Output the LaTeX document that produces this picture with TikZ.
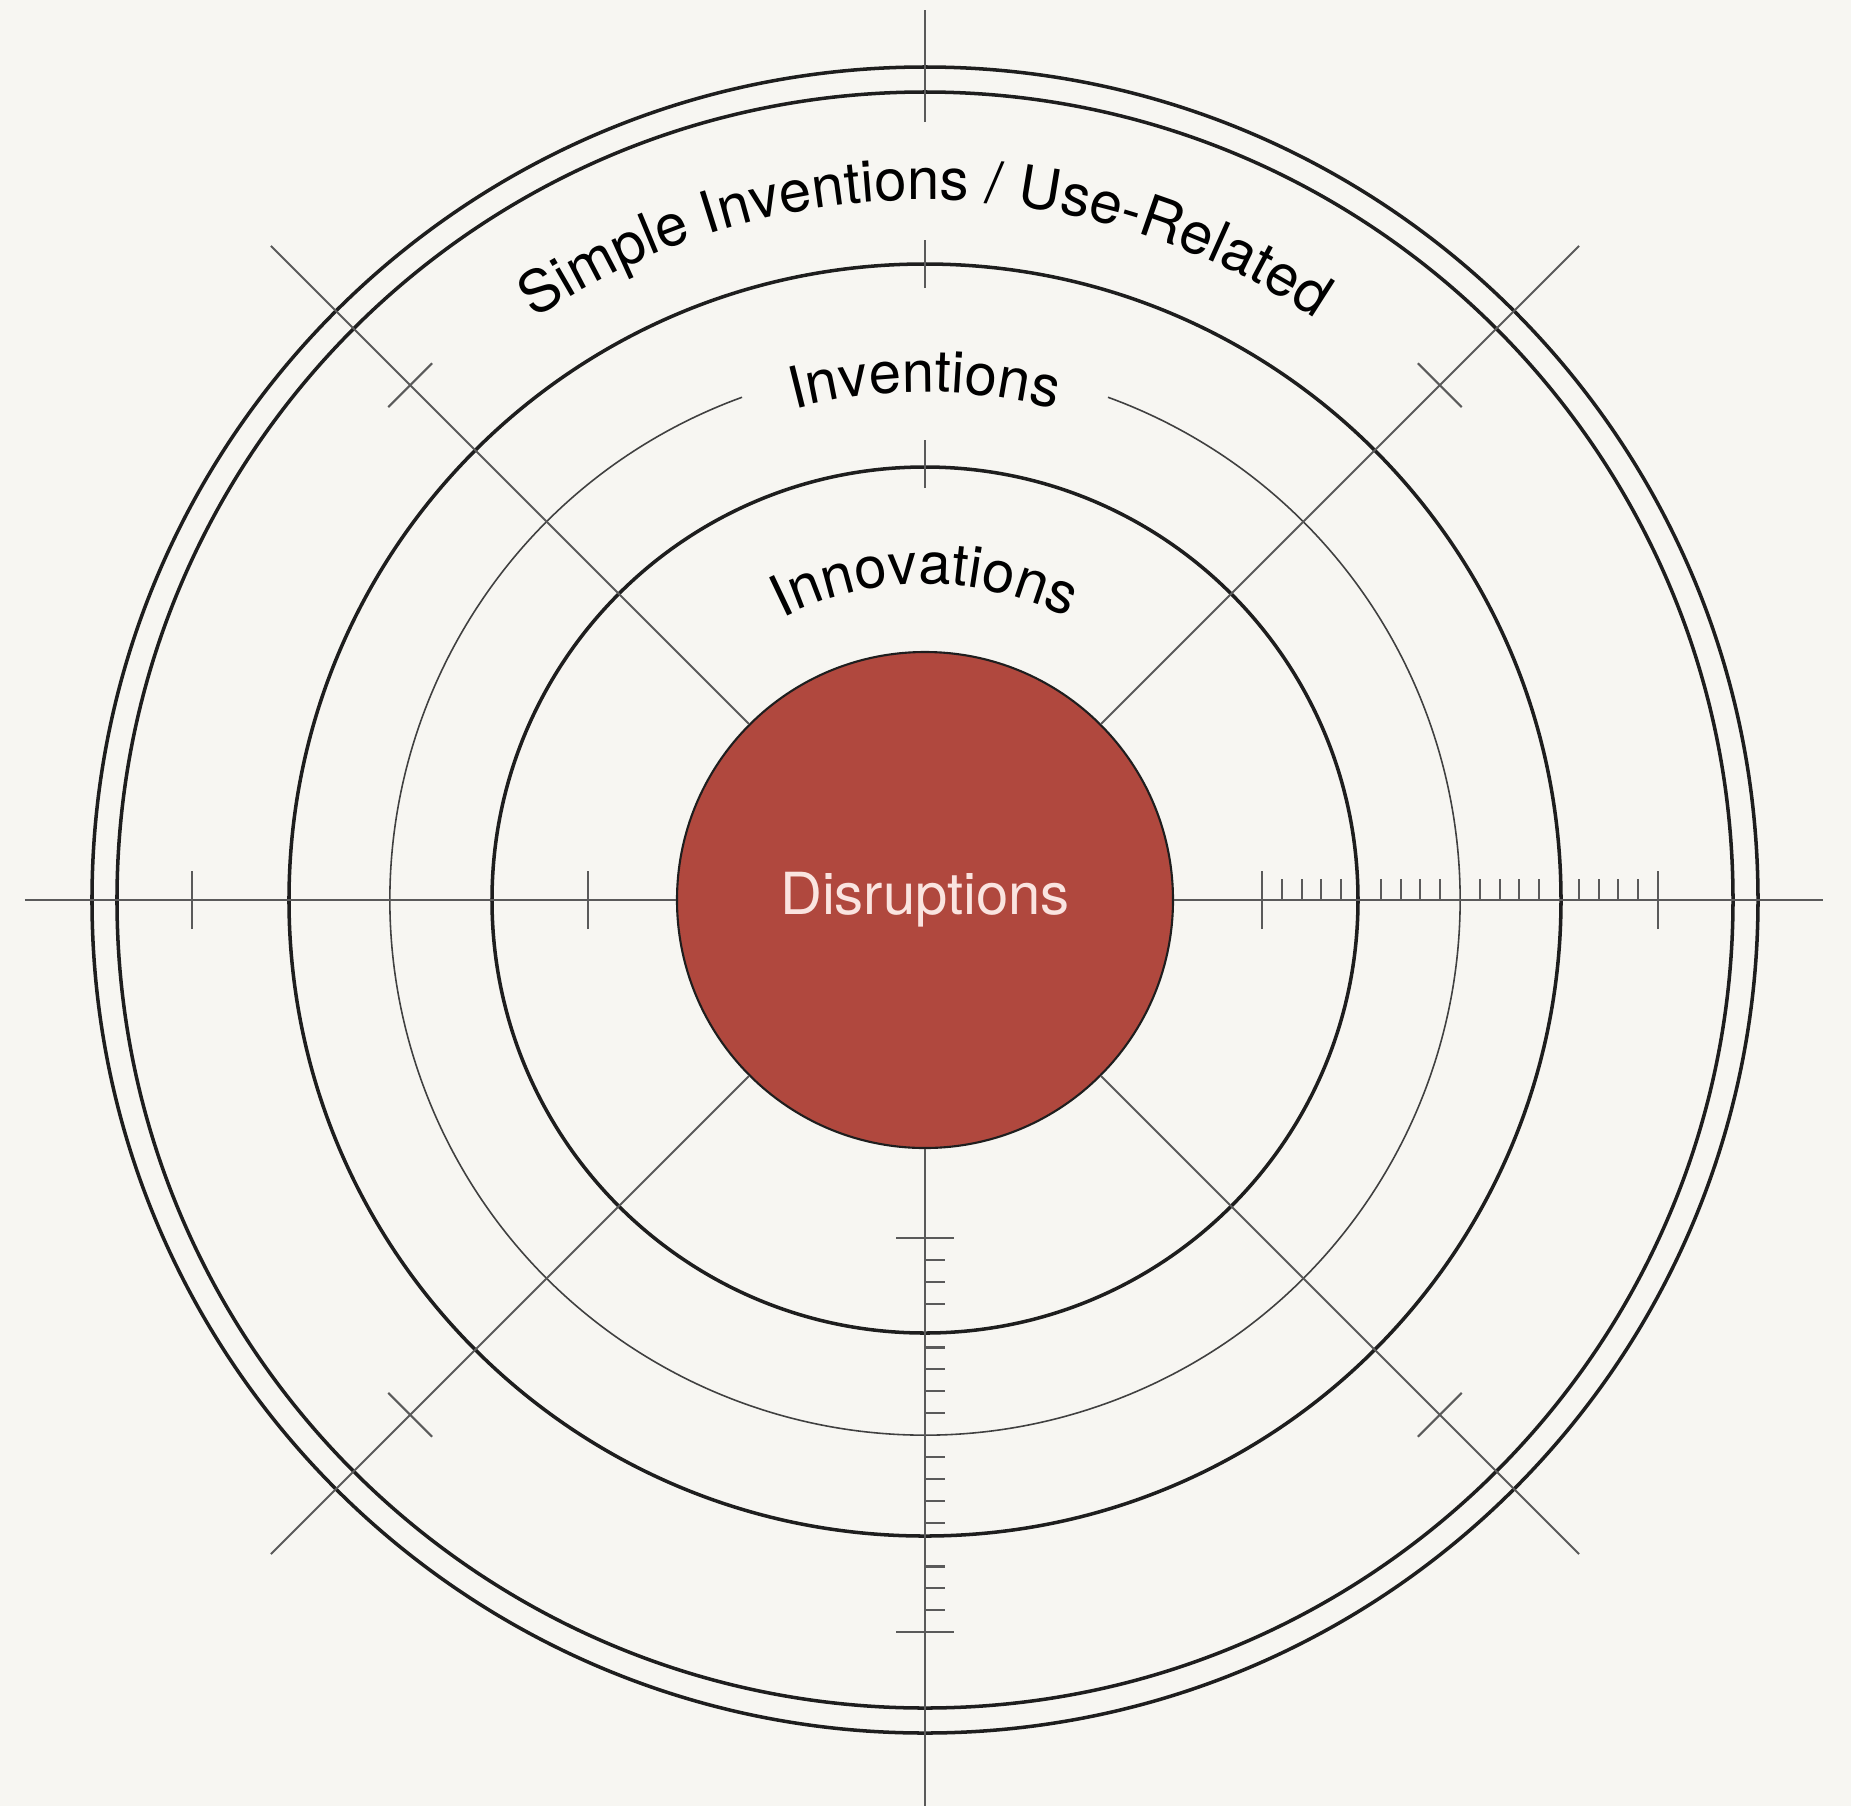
\documentclass[tikz,border=0pt]{standalone}
\usepackage{fontspec}
\setmainfont{TeX Gyre Heros}
\setsansfont{TeX Gyre Heros}
\usetikzlibrary{decorations.text}

\definecolor{paper}{RGB}{247,246,242}
\definecolor{ink}{RGB}{30,30,30}
\definecolor{axisgray}{RGB}{90,90,90}
\definecolor{disrupt}{RGB}{176,72,62}
\definecolor{disrupttext}{RGB}{250,228,224}

\newcommand{\ringfont}{\fontsize{16.5}{20}\selectfont}

\tikzset{
	ring/.style={draw=ink, line width=1.0pt},
	thinring/.style={draw=ink!85, line width=0.45pt},
	axis/.style={draw=axisgray, line width=0.75pt},
	tick/.style={draw=axisgray, line width=0.6pt},
}

\begin{document}
\begin{tikzpicture}[font=\sffamily]

	\fill[paper] (-9.25,-9.06) rectangle (9.26,9.00);
	\useasboundingbox (-9.25,-9.06) rectangle (9.26,9.00);

	% the core
	\node[circle, fill=disrupt, draw=ink, line width=0.6pt, minimum size=4.96cm, inner sep=0pt, text=disrupttext, font=\ringfont] (core) at (0,0) {Disruptions};

	% rings
	\draw[ring] (0,0) circle (8.33);
	\draw[ring] (0,0) circle (8.08);
	\draw[ring] (0,0) circle (6.36);
	\draw[ring] (0,0) circle (4.33);
	\draw[thinring] (110:5.35) arc[start angle=110, end angle=430, radius=5.35];

	% axes
	\draw[axis] (-9.00,0) -- (core.west);
	\draw[axis] (core.east) -- (8.98,0);
	\draw[axis] (core.south) -- (0,-9.06);
	\draw[axis] (0,7.78) -- (0,8.90);
	\draw[axis] (0,6.12) -- (0,6.60);
	\draw[axis] (0,4.12) -- (0,4.60);

	% diagonals with their ticks
	\foreach \a in {45,135,225,315} {
		\draw[axis, line width=0.55pt] (core.\a) -- (\a:9.25);
		\draw[tick, rotate=\a] (7.28,-0.31) -- (7.28,0.31);
	}

	% scale marks
	\foreach \x in {-7.33,-3.37,3.37,7.33}
		\draw[tick] (\x,-0.29) -- (\x,0.29);
	\foreach \y in {-3.38,-7.32}
		\draw[tick] (-0.29,\y) -- (0.29,\y);
	\foreach \k in {1,2,3,4,6,7,8,9,11,12,13,14,16,17,18,19}
		\draw[tick] ({3.37+0.198*\k},0) -- ++(0,0.21);
	\foreach \k in {1,2,3,5,6,7,8,10,11,12,13,15,16,17}
		\draw[tick] (0,{-3.38-0.219*\k}) -- ++(0.2,0);

	% curved labels
	\path[decorate, decoration={text along path, text align=center,
		text={|\ringfont|Simple Inventions / Use-Related}}]
		(160:7.00) arc[start angle=160, end angle=20, radius=7.00];
	\path[decorate, decoration={text along path, text align=center,
		text={|\ringfont|Inventions}}]
		(150:5.08) arc[start angle=150, end angle=30, radius=5.08];
	\path[decorate, decoration={text along path, text align=center,
		text={|\ringfont|Innovations}}]
		(160:3.16) arc[start angle=160, end angle=20, radius=3.16];

\end{tikzpicture}
\end{document}
